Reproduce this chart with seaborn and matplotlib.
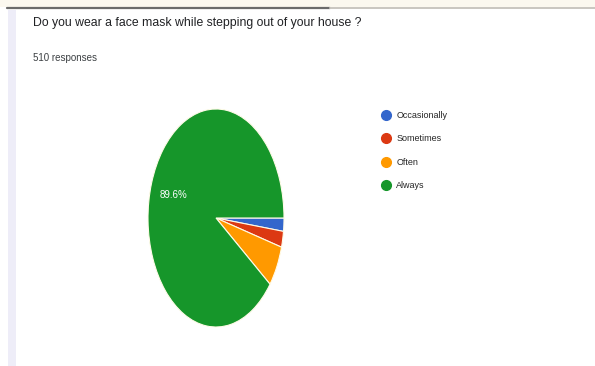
import matplotlib
matplotlib.use("Agg")
import matplotlib.pyplot as plt
import seaborn as sns
from matplotlib.lines import Line2D
from matplotlib.patches import Rectangle

title = "Do you wear a face mask while stepping out of your house ?"
subtitle = "510 responses"
categories = ["Occasionally", "Sometimes", "Often", "Always"]
counts = [10, 12, 31, 457]
colors = ["#3366cc", "#dc3912", "#ff9900", "#16962a"]

sns.set_theme(style="white")
plt.rcParams['font.family'] = ['Liberation Sans', 'DejaVu Sans']

W, H = 595, 366
fig = plt.figure(figsize=(W / 100, H / 100), dpi=100)
fig.patch.set_facecolor("white")

def fx(px):
    return px / W

def fy(py):
    return 1 - py / H

# page decorations
fig.add_artist(Rectangle((fx(0), fy(7)), fx(595), 7 / H, transform=fig.transFigure,
                         facecolor="#fbf8ef", edgecolor="none"))
fig.add_artist(Line2D([fx(7), fx(330)], [fy(7.5), fy(7.5)], transform=fig.transFigure,
                      color="#6b6b6b", lw=1.6))
fig.add_artist(Line2D([fx(330), fx(595)], [fy(7.5), fy(7.5)], transform=fig.transFigure,
                      color="#c9c6c0", lw=1.4))
fig.add_artist(Rectangle((fx(8), fy(366)), fx(8), fy(10) - fy(366), transform=fig.transFigure,
                         facecolor="#eeedf8", edgecolor="none"))

fig.text(fx(33), fy(23), title, fontsize=8.8, color="#202124", va="center", ha="left")
fig.text(fx(33), fy(58), subtitle, fontsize=7, color="#3c4043", va="center", ha="left")

# pie axes (elliptical, as in the squeezed screenshot)
cx, cy, rx, ry = 216, 218, 68, 109
ax = fig.add_axes([fx(cx - rx), fy(cy + ry), 2 * rx / W, 2 * ry / H])

def fmt(p):
    return f"{p:.1f}%" if p > 20 else ""

wedges, texts, autotexts = ax.pie(
    counts, colors=colors, startangle=0, counterclock=False,
    autopct=fmt, pctdistance=0.66,
    wedgeprops=dict(edgecolor="#fffbe8", linewidth=0.8),
    textprops=dict(color="white", fontsize=7),
)
ax.set_aspect("auto")
ax.set_xlim(-1, 1)
ax.set_ylim(-1, 1)
ax.axis("off")

handles = [Line2D([0], [0], marker="o", linestyle="none", markersize=7,
                  markerfacecolor=c, markeredgecolor=c) for c in colors]
fig.legend(handles, categories, loc="upper left",
           bbox_to_anchor=(fx(381), fy(111)), frameon=False,
           fontsize=6.5, labelspacing=1.6, handletextpad=0.5,
           handlelength=1.2, borderaxespad=0, borderpad=0)

fig.savefig("out.png", dpi=100, facecolor="white")
